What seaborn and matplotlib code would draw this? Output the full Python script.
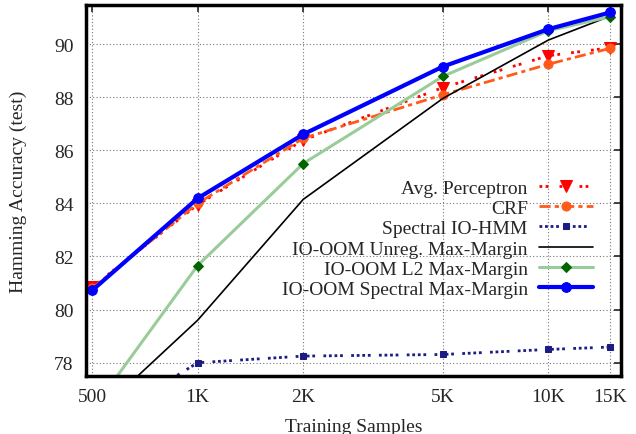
import matplotlib
matplotlib.use("Agg")
import matplotlib.pyplot as plt
import seaborn as sns
import numpy as np
import pandas as pd

# ---- data ----
samples = [500, 1000, 2000, 5000, 10000, 15000]
tick_labels = ["500", "1K", "2K", "5K", "10K", "15K"]
avg_perceptron = [80.85, 83.95, 86.38, 88.36, 89.56, 89.86]
crf = [80.8, 84.0, 86.45, 88.09, 89.24, 89.84]
spectral_iohmm = [75.55, 78.0, 78.25, 78.31, 78.5, 78.59]
unreg_mm = [75.9, 79.6, 84.15, 87.95, 90.15, 91.05]
l2_mm = [76.2, 81.66, 85.5, 88.78, 90.5, 91.03]
spectral_mm = [80.72, 84.19, 86.6, 89.15, 90.56, 91.19]

series_names = ["Avg. Perceptron", "CRF", "Spectral IO-HMM",
                "IO-OOM Unreg. Max-Margin", "IO-OOM L2 Max-Margin",
                "IO-OOM Spectral Max-Margin"]
series_values = [avg_perceptron, crf, spectral_iohmm, unreg_mm, l2_mm, spectral_mm]

sns.set_style("white")
plt.rcParams['font.family'] = ['Liberation Serif', 'DejaVu Serif']

fig = plt.figure(figsize=(6.36, 4.35), dpi=100)
ax = fig.add_axes([86/636, 1-377/435, (621-86)/636, (377-6)/435])

styles = {
    "Avg. Perceptron": dict(color="#ff0000", lw=2.0, dashes=(1.0, 1.2, 1.0, 4), marker="v", ms=8, mec="#ff0000"),
    "CRF": dict(color="#ff5a1a", lw=2.0, dashes=(4, 1.5, 1.5, 1.5), marker="o", ms=6.5, mec="#ff5a1a"),
    "Spectral IO-HMM": dict(color="#1c1c86", lw=2.0, dashes=(1, 1, 1, 1, 1, 1, 1, 3), marker="s", ms=5, mec="#1c1c86"),
    "IO-OOM Unreg. Max-Margin": dict(color="#000000", lw=1.2, dashes=(None, None), marker=None, ms=0, mec="#000000"),
    "IO-OOM L2 Max-Margin": dict(color="#9acc9a", lw=2.2, dashes=(None, None), marker="D", ms=5.5, mec="#006400", mfc="#006400"),
    "IO-OOM Spectral Max-Margin": dict(color="#0000ff", lw=3.0, dashes=(None, None), marker="o", ms=7, mec="#0000ff"),
}

for name, vals in zip(series_names, series_values):
    st = styles[name]
    df = pd.DataFrame({"x": samples, "y": vals})
    kw = dict(color=st["color"], lw=st["lw"], ax=ax, label=name, clip_on=True)
    if st["marker"]:
        kw.update(marker=st["marker"], markersize=st["ms"], markeredgecolor=st["mec"],
                  markerfacecolor=st.get("mfc", st["color"]))
    line = sns.lineplot(data=df, x="x", y="y", **kw).lines[-1]
    if st["dashes"][0] is not None:
        line.set_dashes(st["dashes"])

ax.set_xscale("log")
ax.set_xlim(480.5, 16110)
ax.set_ylim(77.5, 91.47)
ax.set_xticks(samples)
ax.set_xticklabels(tick_labels)
ax.minorticks_off()
ax.set_yticks([78, 80, 82, 84, 86, 88, 90])

ax.grid(True, color="#777777", lw=0.8, linestyle=(0, (1, 2)))
for sp in ax.spines.values():
    sp.set_linewidth(2.5)
    sp.set_color("black")
ax.tick_params(direction="in", length=5, width=1.2, top=True, right=True,
               labelsize=14, pad=9)

ax.set_xlabel("Training Samples", fontsize=14, labelpad=9)
ax.set_ylabel("Hamming Accuracy (test)", fontsize=14, labelpad=19)

leg = ax.legend(loc="upper right", bbox_to_anchor=(593/636, 1-180/435),
                bbox_transform=fig.transFigure, frameon=False, markerfirst=False,
                fontsize=14, handlelength=2.8, handletextpad=0.55,
                labelspacing=0.14, borderpad=0, borderaxespad=0)

fig.savefig("out.png", dpi=100)
